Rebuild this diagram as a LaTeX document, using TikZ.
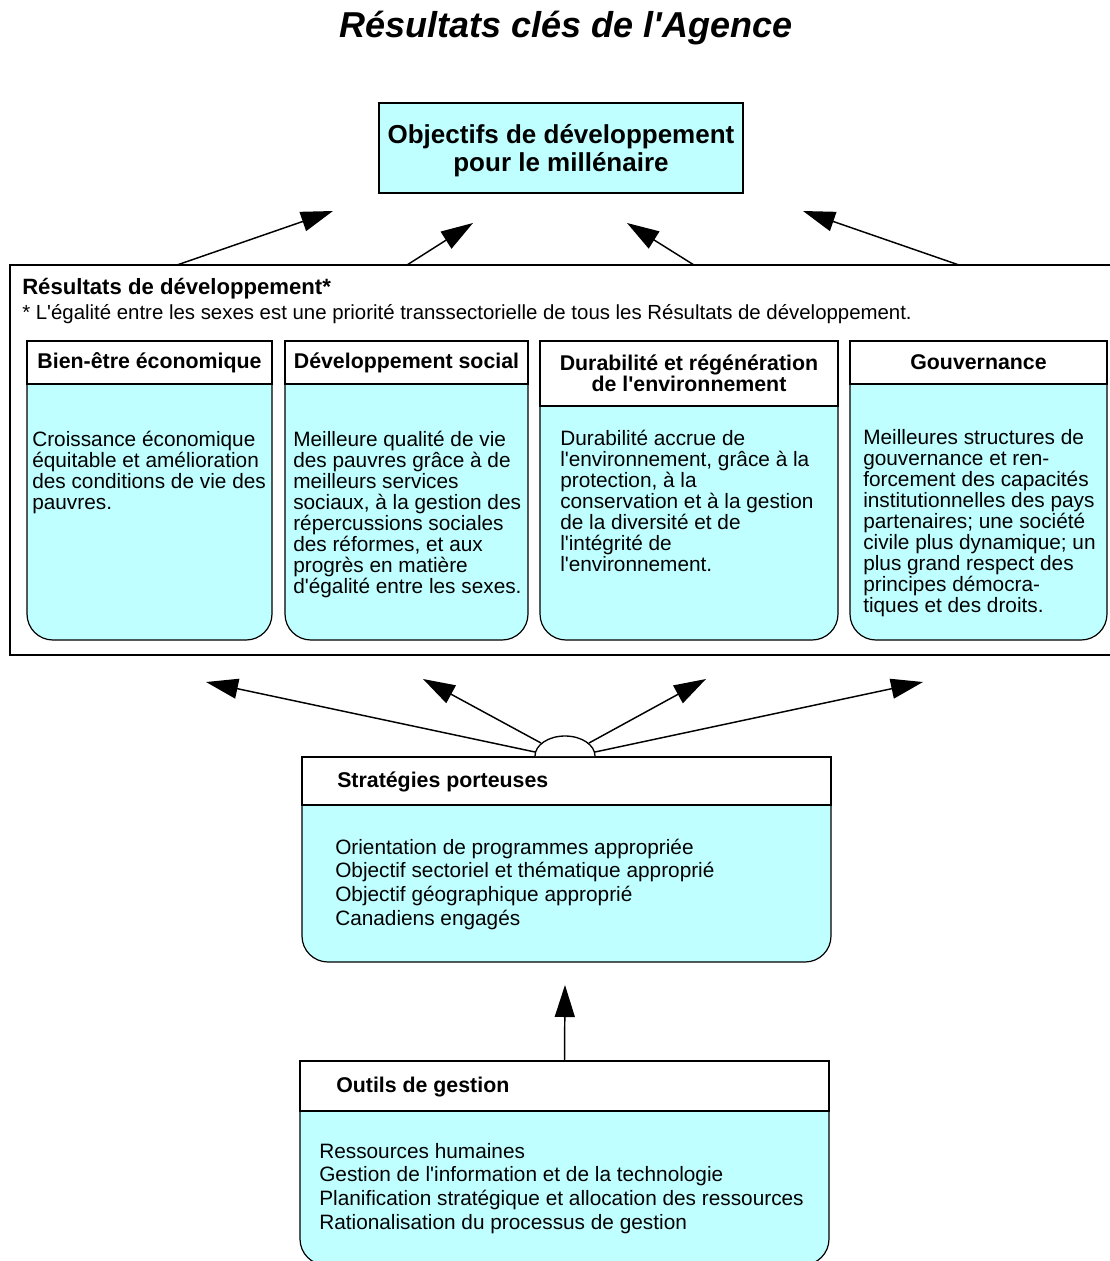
\documentclass[tikz,border=0pt]{standalone}
\usepackage{fontspec}
\setmainfont{Liberation Sans}[Ligatures=TeXOff]
\usetikzlibrary{arrows.meta}
\newdimen\px \px=0.75pt
\definecolor{boxcyan}{RGB}{192,255,255}
\newcommand\lstack[1]{\vtop{\halign{##\hfil\cr#1\crcr}}}
\tikzset{
  hdr/.style={draw, line width=1.6pt, fill=white, inner sep=0pt, outer sep=0pt, anchor=north west,
    font=\bfseries\fontsize{16}{15.8}\selectfont, align=center},
  bodybox/.style={draw, line width=0.9pt, fill=boxcyan, rounded corners=19.5pt, anchor=north west,
    inner sep=0pt, outer sep=0pt},
  coltxt/.style={anchor=base west, inner sep=0pt, font=\fontsize{15.6}{15.8}\selectfont},
  listtxt/.style={anchor=base west, inner sep=0pt, font=\fontsize{15.6}{17.75}\selectfont},
  hdrlabel/.style={anchor=west, inner sep=0pt, font=\bfseries\fontsize{16}{18}\selectfont},
  arr/.style={line width=1.1pt, -{Triangle[length=24pt,width=15pt]}},
}
\begin{document}
\begin{tikzpicture}[x=0.75pt,y=-0.75pt]
\useasboundingbox (0,0) rectangle (1110,1261);
\fill[white] (0,0) rectangle (1110,1261);

% title
\node[font=\bfseries\itshape\fontsize{27}{30}\selectfont] (title) at (566,28) {Résultats clés de l'Agence};

% top box
\node[draw, line width=1pt, fill=boxcyan, minimum width=364\px, minimum height=90\px] (mdg) at (561,148) {};
\node[font=\bfseries\fontsize{19.5}{21}\selectfont, align=center, inner sep=0pt] (mdgt) at (561,151)
  {Objectifs de développement\\pour le millénaire};

% frame
\node[draw, line width=2.2pt, minimum width=1104\px, minimum height=390\px, anchor=north west,
  inner sep=0pt, outer sep=0pt] (frame) at (10,265) {};
\node[anchor=base west, inner sep=0pt, font=\bfseries\fontsize{16.6}{18}\selectfont] (frtitle) at (22,294)
  {Résultats de développement*};
\node[anchor=base west, inner sep=0pt, font=\fontsize{15.3}{18}\selectfont] (frnote) at (22,319)
  {* L'égalité entre les sexes est une priorité transsectorielle de tous les Résultats de développement.};

% top arrows
\coordinate (t1) at (333,211);
\coordinate (t2) at (473,223);
\coordinate (t3) at (627,223);
\coordinate (t4) at (803,211);
\draw[arr] (frame.north west) ++(167,0) -- (t1);
\draw[arr] (frame.north west) ++(397,0) -- (t2);
\draw[arr] (frame.north west) ++(684,0) -- (t3);
\draw[arr] (frame.north west) ++(949,0) -- (t4);

% columns: bodies
\node[bodybox, minimum width=245\px, minimum height=299\px] (c1b) at (27,341) {};
\node[bodybox, minimum width=243\px, minimum height=299\px] (c2b) at (285,341) {};
\node[bodybox, minimum width=298\px, minimum height=299\px] (c3b) at (540,341) {};
\node[bodybox, minimum width=257\px, minimum height=299\px] (c4b) at (850,341) {};
% columns: headers
\node[hdr, minimum width=245\px, minimum height=43\px] (c1h) at (27,341) {Bien-être économique};
\node[hdr, minimum width=243\px, minimum height=43\px] (c2h) at (285,341) {Développement social};
\node[hdr, minimum width=298\px, minimum height=65\px] (c3h) at (540,341) {Durabilité et régénération\\de l'environnement};
\node[hdr, minimum width=257\px, minimum height=43\px] (c4h) at (850,341) {Gouvernance};
% columns: texts
\node[coltxt] (c1t) at (32,446) {\lstack{Croissance économique\cr
équitable et amélioration\cr
des conditions de vie des\cr
pauvres.}};
\node[coltxt] (c2t) at (293,446) {\lstack{Meilleure qualité de vie\cr
des pauvres grâce à de\cr
meilleurs services\cr
sociaux, à la gestion des\cr
répercussions sociales\cr
des réformes, et aux\cr
progrès en matière\cr
d'égalité entre les sexes.}};
\node[coltxt] (c3t) at (560,445) {\lstack{Durabilité accrue de\cr
l'environnement, grâce à la\cr
protection, à la\cr
conservation et à la gestion\cr
de la diversité et de\cr
l'intégrité de\cr
l'environnement.}};
\node[coltxt] (c4t) at (863,444) {\lstack{Meilleures structures de\cr
gouvernance et ren-\cr
forcement des capacités\cr
institutionnelles des pays\cr
partenaires; une société\cr
civile plus dynamique; un\cr
plus grand respect des\cr
principes démocra-\cr
tiques et des droits.}};

% Strategies
\node[bodybox, minimum width=529\px, minimum height=205\px] (sb) at (302,757) {};
\node[hdr, minimum width=529\px, minimum height=48\px] (sh) at (302,757) {};
\node[hdrlabel] (shl) at (337,782) {Stratégies porteuses};
\node[listtxt] (st) at (335,854) {\lstack{Orientation de programmes appropriée\cr
Objectif sectoriel et thématique approprié\cr
Objectif géographique approprié\cr
Canadiens engagés}};

% arc and bottom arrows
\draw[line width=1pt, fill=white] (535,756) arc[start angle=180, end angle=0, x radius=22.5pt, y radius=15pt];
\coordinate (a1) at (535,752);
\coordinate (a2) at (541,743);
\coordinate (a3) at (589,743);
\coordinate (a4) at (595,752);
\coordinate (b1) at (206,682);
\coordinate (b2) at (423,679);
\coordinate (b3) at (706,679);
\coordinate (b4) at (923,682);
\draw[arr] (a1) -- (b1);
\draw[arr] (a2) -- (b2);
\draw[arr] (a3) -- (b3);
\draw[arr] (a4) -- (b4);

% Outils
\node[bodybox, minimum width=529\px, minimum height=204\px] (ob) at (300,1061) {};
\node[hdr, minimum width=529\px, minimum height=50\px] (oh) at (300,1061) {};
\node[hdrlabel] (ohl) at (336,1087) {Outils de gestion};
\node[listtxt] (ot) at (319,1158) {\lstack{Ressources humaines\cr
Gestion de l'information et de la technologie\cr
Planification stratégique et allocation des ressources\cr
Rationalisation du processus de gestion}};

\coordinate (vt) at (565,985);
\draw[arr] (oh.north) -- (vt);
\end{tikzpicture}
\end{document}
